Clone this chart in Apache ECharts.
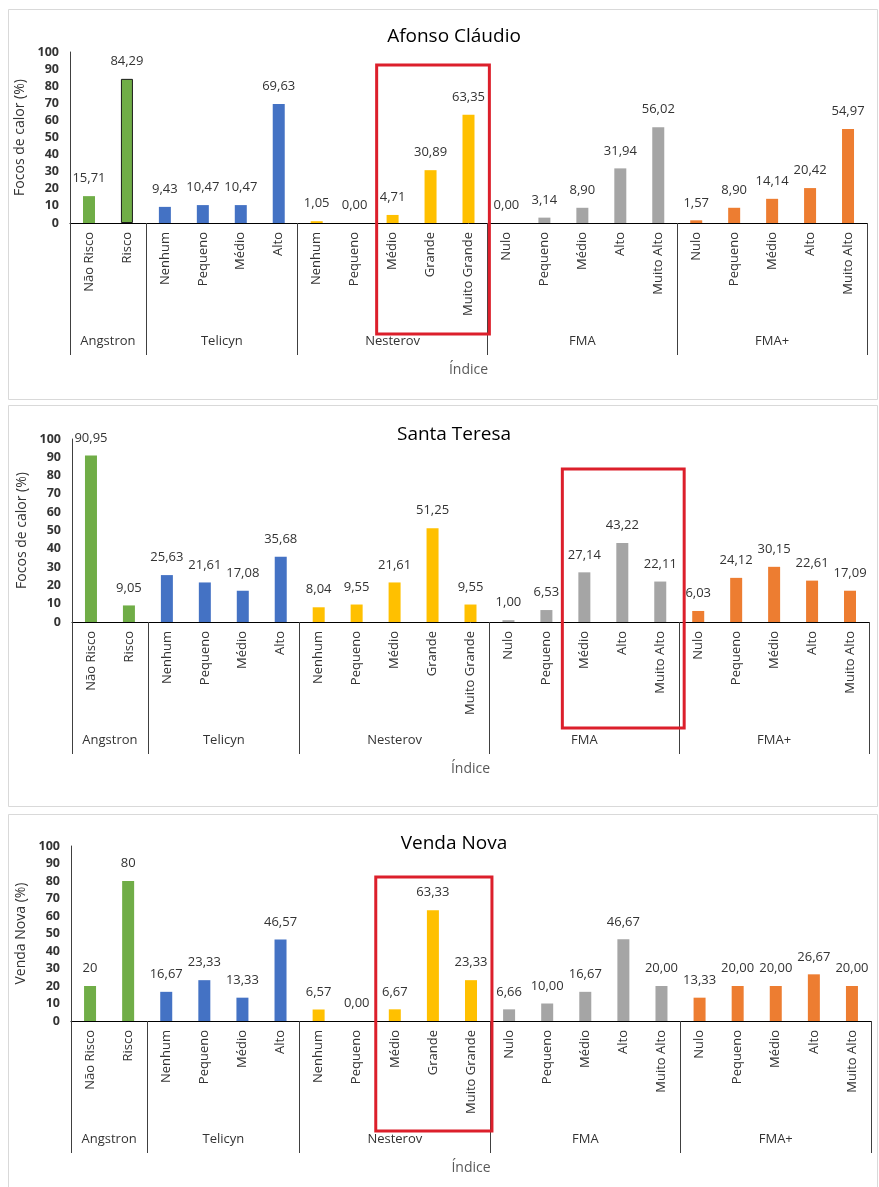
<!DOCTYPE html>
<html>
<head>
<meta charset="utf-8">
<script src="https://cdn.jsdelivr.net/npm/echarts@6/dist/echarts.min.js"></script>
<style>
  html, body { margin: 0; padding: 0; background: #ffffff; }
  #chart { width: 879px; height: 1187px; }
</style>
</head>
<body>
<div id="chart"></div>
<script>
// Heat-focus share (%) per fire-risk index class, for three municipalities.
const groupNames = ['Angstron', 'Telicyn', 'Nesterov', 'FMA', 'FMA+'];
const angstronClasses = ['Não Risco', 'Risco'];
const telicynClasses = ['Nenhum', 'Pequeno', 'Médio', 'Alto'];
const nesterovClasses = ['Nenhum', 'Pequeno', 'Médio', 'Grande', 'Muito Grande'];
const fmaClasses = ['Nulo', 'Pequeno', 'Médio', 'Alto', 'Muito Alto'];
const fmaPlusClasses = ['Nulo', 'Pequeno', 'Médio', 'Alto', 'Muito Alto'];

const afonsoClaudio = [15.71, 84.29, 9.43, 10.47, 10.47, 69.63, 1.05, 0.00, 4.71, 30.89, 63.35,
  0.00, 3.14, 8.90, 31.94, 56.02, 1.57, 8.90, 14.14, 20.42, 54.97];
const santaTeresa = [90.95, 9.05, 25.63, 21.61, 17.08, 35.68, 8.04, 9.55, 21.61, 51.25, 9.55,
  1.00, 6.53, 27.14, 43.22, 22.11, 6.03, 24.12, 30.15, 22.61, 17.09];
const vendaNova = [20, 80, 16.67, 23.33, 13.33, 46.57, 6.57, 0.00, 6.67, 63.33, 23.33,
  6.66, 10.00, 16.67, 46.67, 20.00, 13.33, 20.00, 20.00, 26.67, 20.00];

// decimals shown in the value labels, per index group
const afonsoDecimals = [2, 2, 2, 2, 2];
const santaDecimals = [2, 2, 2, 2, 2];
const vendaDecimals = [0, 2, 2, 2, 2];

const yTicks = [0, 10, 20, 30, 40, 50, 60, 70, 80, 90, 100];

const groupColors = ['#70ad47', '#4472c4', '#ffc000', '#a5a5a5', '#ed7d31'];
const groupClasses = [angstronClasses, telicynClasses, nesterovClasses, fmaClasses, fmaPlusClasses];
const categories = [].concat(...groupClasses);

// group boundaries and centres in category units
const boundaries = [0];
groupClasses.forEach(g => boundaries.push(boundaries[boundaries.length - 1] + g.length));
const centers = groupClasses.map((g, i) => boundaries[i] + g.length / 2);
function groupOf(idx) {
  for (let i = 0; i < groupClasses.length; i++) if (idx < boundaries[i + 1]) return i;
  return groupClasses.length - 1;
}

const FONT = '"Open Sans", "Noto Sans", sans-serif';
const TXT = '#333333';

const panels = [
  { title: 'Afonso Cláudio', yName: 'Focos de calor (%)', values: afonsoClaudio, decimals: afonsoDecimals,
    grid: { left: 70, right: 12, top: 52, height: 171 }, titleTop: 22, outlined: [1],
    highlight: { from: 8.08, to: 11.05, top: 65, bottom: 334 }, frame: [9, 399] },
  { title: 'Santa Teresa', yName: 'Focos de calor (%)', values: santaTeresa, decimals: santaDecimals,
    grid: { left: 72, right: 10, top: 439, height: 183 }, titleTop: 420, outlined: [],
    highlight: { from: 12.92, to: 16.13, top: 469, bottom: 728 }, frame: [405, 806] },
  { title: 'Venda Nova', yName: 'Venda Nova (%)', values: vendaNova, decimals: vendaDecimals,
    grid: { left: 71, right: 8, top: 846, height: 175 }, titleTop: 829, outlined: [],
    highlight: { from: 8.0, to: 11.05, top: 877, bottom: 1131 }, frame: [814, 1200] }
];

function fmt(v, d) {
  return v.toFixed(d).replace('.', ',');
}

const option = {
  backgroundColor: '#ffffff',
  animation: false,
  textStyle: { fontFamily: FONT },
  title: [], grid: [], xAxis: [], yAxis: [], series: [], graphic: []
};

panels.forEach((p, i) => {
  option.title.push({
    text: p.title, left: 449, top: p.titleTop, textAlign: 'center',
    textStyle: { fontFamily: FONT, fontSize: 19, fontWeight: 'normal', color: '#000000' }
  });
  option.grid.push(Object.assign({ containLabel: false }, p.grid));
  // class axis
  option.xAxis.push({
    type: 'category', gridIndex: i, data: categories, position: 'bottom',
    axisLine: { show: true, lineStyle: { color: '#000000', width: 1 } },
    axisTick: { show: false },
    axisLabel: { rotate: 90, interval: 0, margin: 9, fontSize: 13, color: TXT, fontFamily: FONT },
    splitLine: { show: false }
  });
  // index-group axis: separators and group names
  option.xAxis.push({
    type: 'value', gridIndex: i, min: 0, max: categories.length, position: 'bottom',
    name: 'Índice', nameLocation: 'middle', nameGap: 140,
    nameTextStyle: { fontSize: 14, color: '#595959', fontFamily: FONT },
    axisLine: { show: false },
    axisTick: { show: true, customValues: boundaries, length: 132, lineStyle: { color: '#404040', width: 1 } },
    axisLabel: {
      show: true, customValues: centers, margin: 112, fontSize: 13, color: TXT, fontFamily: FONT,
      formatter: v => groupNames[centers.indexOf(v)] || ''
    },
    splitLine: { show: false }
  });
  option.yAxis.push({
    type: 'value', gridIndex: i, min: yTicks[0], max: yTicks[yTicks.length - 1],
    interval: yTicks[1] - yTicks[0],
    name: p.yName, nameLocation: 'middle', nameGap: 40, nameRotate: 90,
    nameTextStyle: { fontSize: 14, color: TXT, fontFamily: FONT },
    axisLine: { show: true, lineStyle: { color: '#404040', width: 1 } },
    axisTick: { show: false },
    axisLabel: { margin: 11, fontSize: 12.5, fontWeight: 'bold', color: TXT, fontFamily: FONT },
    splitLine: { show: false }
  });
  option.series.push({
    type: 'bar', xAxisIndex: i * 2, yAxisIndex: i, barWidth: 12,
    data: p.values.map((v, k) => p.outlined.includes(k)
      ? { value: v, itemStyle: { borderColor: '#1a1a1a', borderWidth: 1 } }
      : v),
    itemStyle: { color: params => groupColors[groupOf(params.dataIndex)] },
    label: {
      show: true, position: 'top', distance: 11, fontSize: 13, color: TXT, fontFamily: FONT,
      formatter: params => fmt(params.value, p.decimals[groupOf(params.dataIndex)])
    }
  });
});

const chart = echarts.init(document.getElementById('chart'), null, { renderer: 'canvas' });
chart.setOption(option);

// panel frames and highlight boxes
const graphics = [];
panels.forEach((p, i) => {
  graphics.push({
    type: 'rect', silent: true, z: 0,
    shape: { x: 8.5, y: p.frame[0] + 0.5, width: 869, height: p.frame[1] - p.frame[0] },
    style: { fill: null, stroke: '#d9d9d9', lineWidth: 1 }
  });
  const x1 = chart.convertToPixel({ xAxisIndex: i * 2 + 1 }, p.highlight.from);
  const x2 = chart.convertToPixel({ xAxisIndex: i * 2 + 1 }, p.highlight.to);
  graphics.push({
    type: 'rect', silent: true, z: 100,
    shape: { x: x1, y: p.highlight.top, width: x2 - x1, height: p.highlight.bottom - p.highlight.top },
    style: { fill: null, stroke: '#dc1f2b', lineWidth: 3 }
  });
});
chart.setOption({ graphic: graphics });
</script>
</body>
</html>
